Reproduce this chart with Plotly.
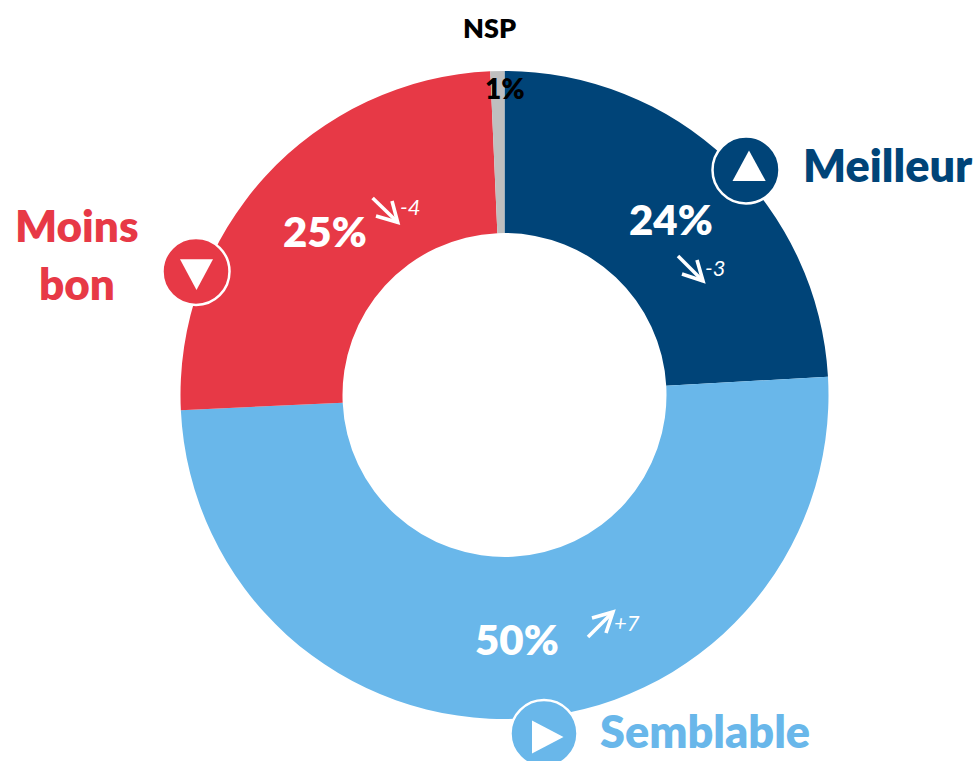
import plotly.graph_objects as go

W, H = 979, 761
categories = ["Meilleur", "Semblable", "Moins bon", "NSP"]
arc_shares = [24.1, 50.15, 25.05, 0.7]    # shares
labels_pct = ["24%", "50%", "25%", "1%"]  # printed labels
changes = ["-3", "+7", "-4"]
colors = ["#004478", "#69B7EA", "#E73946", "#BFBFBF"]
FONT = "Lato, Carlito, Calibri, sans-serif"

def px(x): return x / W
def py(y): return 1 - y / H

fig = go.Figure(go.Pie(
    labels=categories, values=arc_shares, sort=False, direction="clockwise", rotation=0,
    hole=0.5, textinfo="none", showlegend=False,
    marker=dict(colors=colors, line=dict(width=0)),
    domain=dict(x=[px(180.5), px(828.5)], y=[py(719), py(71)]),
    hovertemplate="%{label}<extra></extra>",
))

def text(x, y, s, size, color, italic=False, weight=800):
    if italic:
        s = f"<i>{s}</i>"
    fig.add_annotation(x=px(x), y=py(y), xref="paper", yref="paper", text=s, showarrow=False,
                       xanchor="center", yanchor="middle",
                       font=dict(family=FONT, size=size, color=color, weight=weight))

def path(points, close=False):
    d = "M " + " L ".join(f"{px(a)},{py(b)}" for a, b in points)
    return d + (" Z" if close else "")

def badge(cx, cy, r, color, tri):
    fig.add_shape(type="circle", xref="paper", yref="paper",
                  x0=px(cx - r), x1=px(cx + r), y0=py(cy + r), y1=py(cy - r),
                  fillcolor=color, line=dict(color="white", width=2.5))
    fig.add_shape(type="path", xref="paper", yref="paper", path=path(tri, True),
                  fillcolor="white", line=dict(width=0))

def arrow(tail, tip, b1, b2):
    for seg in ([tail, tip], [b1, tip, b2]):
        fig.add_shape(type="path", xref="paper", yref="paper", path=path(seg),
                      line=dict(color="white", width=3.6))

badge(746, 170, 33.5, colors[0], [(749, 150.5), (732.5, 181), (765.7, 181)])
badge(544, 733.5, 33.5, colors[1], [(532, 720.5), (532, 753.5), (563.5, 737)])
badge(196, 271.5, 33.5, colors[2], [(180, 259.3), (213, 259.3), (196.5, 290)])

arrow((678, 256), (703, 281), (682, 274), (697, 260))
arrow((588, 637), (613, 612), (592, 618), (606, 633))
arrow((372.6, 198), (397.7, 222.3), (376, 216), (392, 201))

text(671, 219, labels_pct[0], 42, "white")
text(517, 639, labels_pct[1], 42, "white")
text(325, 231, labels_pct[2], 42, "white")
text(505, 88, labels_pct[3], 28, "black")
text(490, 27, categories[3], 27, "black")

text(715, 267, changes[0], 22, "white", italic=True, weight="normal")
text(627, 622, changes[1], 22, "white", italic=True, weight="normal")
text(410, 207, changes[2], 22, "white", italic=True, weight="normal")

text(888, 165, categories[0], 45, colors[0])
text(705, 731, categories[1], 45, colors[1])
text(77, 225, "Moins", 44, colors[2])
text(77, 283, "bon", 44, colors[2])

fig.update_layout(width=W, height=H, margin=dict(l=0, r=0, t=0, b=0),
                  paper_bgcolor="white", plot_bgcolor="white")
fig.write_html("out.html", config=dict(displayModeBar=False),
               post_script="document.body.style.margin='0';document.body.style.overflow='hidden';")
